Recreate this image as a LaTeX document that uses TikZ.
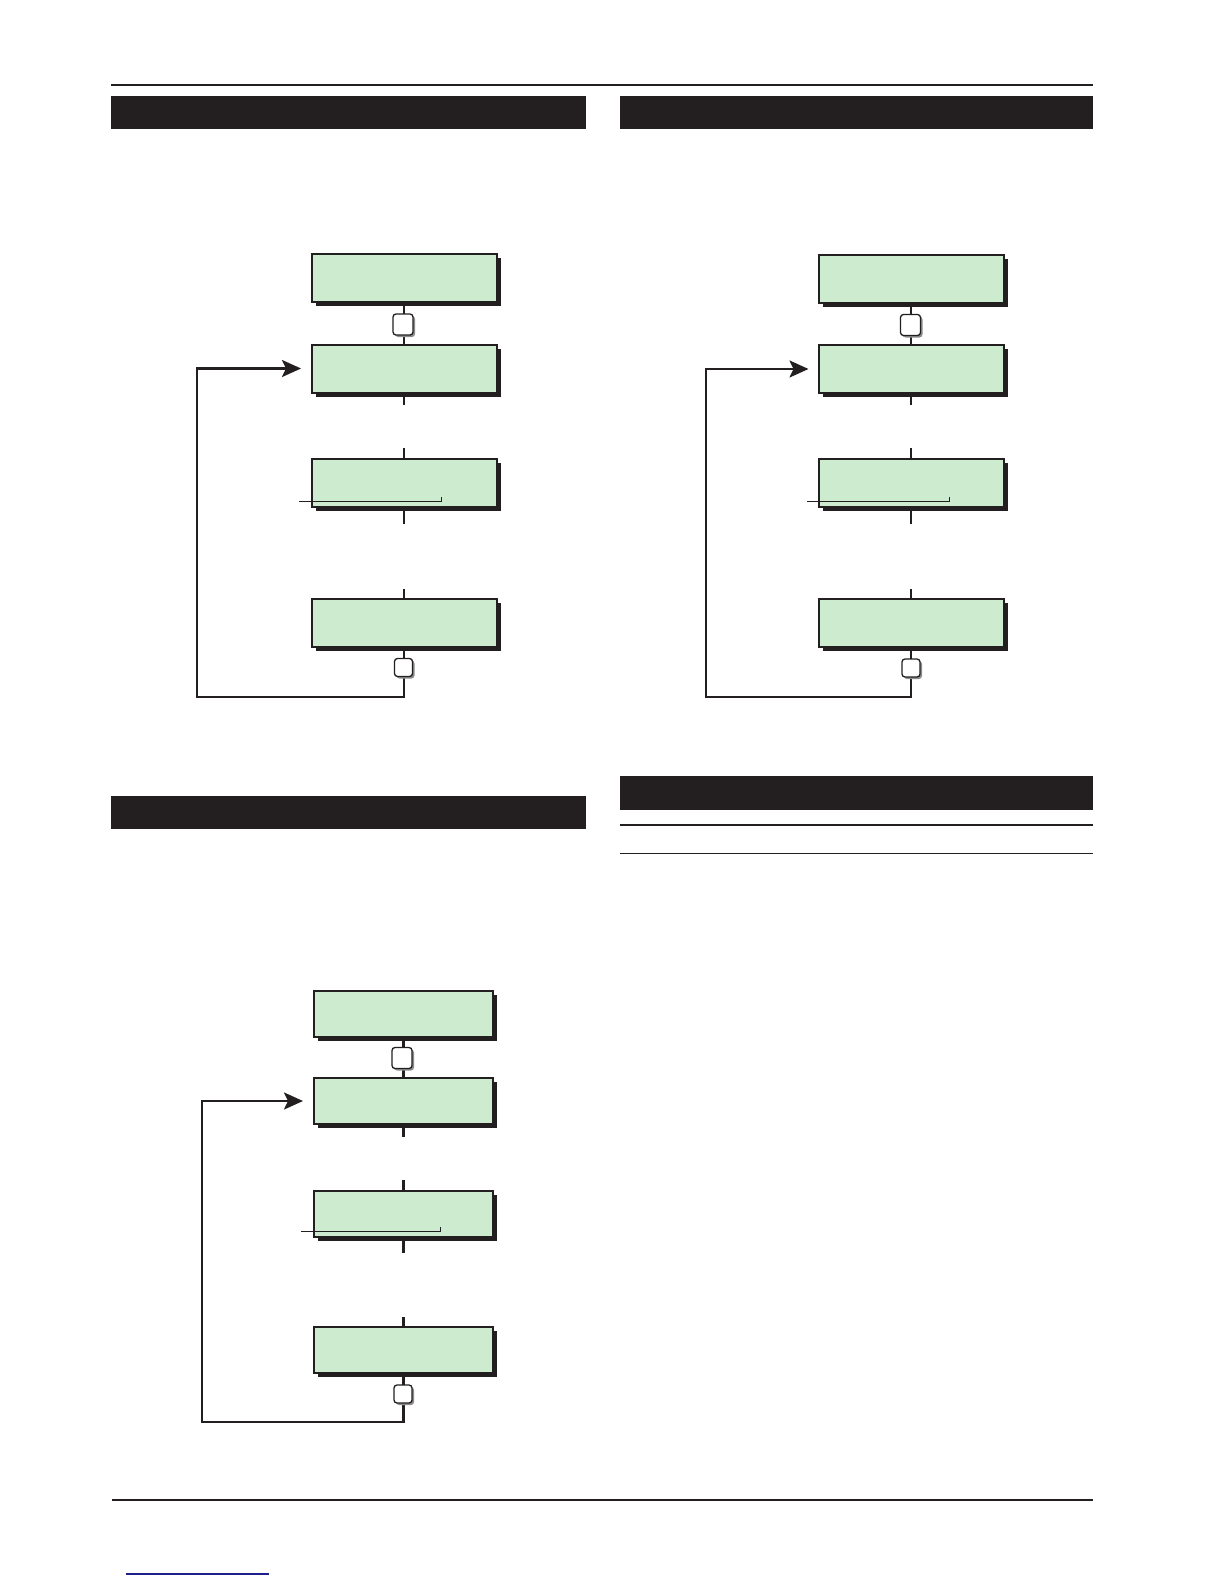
\documentclass[tikz,border=0pt]{standalone}
\usetikzlibrary{arrows.meta,shadows,calc}
\definecolor{ink}{RGB}{35,31,32}
\definecolor{boxgreen}{RGB}{205,235,206}
\definecolor{linkblue}{RGB}{30,30,140}
\begin{document}
\begin{tikzpicture}[x=1pt,y=-1pt,
  gbox/.style={draw=ink,line width=2pt,fill=boxgreen,inner sep=0pt,outer sep=0pt,
    minimum width=185pt,minimum height=48pt,
    general shadow={fill=ink,shadow xshift=4pt,shadow yshift=-4pt}},
  gboxs/.style={gbox,minimum width=179pt,minimum height=46pt},
  sqbox/.style={draw=ink,line width=1.3pt,fill=white,rounded corners=3pt,inner sep=0pt,
    minimum width=20pt,minimum height=21pt,
    general shadow={fill=black!45,shadow xshift=2pt,shadow yshift=-2pt}},
  sqboxs/.style={sqbox,minimum width=18pt,minimum height=18pt},
  conn/.style={draw=ink,line width=2.3pt},
  loop/.style={conn,-{Stealth[length=19pt,width=17pt,inset=4pt]}},
  thinl/.style={draw=ink,line width=1pt},
  bar/.style={fill=ink},
  rule/.style={draw=ink,line width=2.5pt}]
\useasboundingbox (0,0) rectangle (1224,1584);
\fill[white] (0,0) rectangle (1224,1584);

% page rules and header bars
\draw[rule] (111,85) -- (1093,85);
\fill[bar] (111,96) rectangle (586,129);
\fill[bar] (620,96) rectangle (1093,129);
\fill[bar] (111,796) rectangle (586,829);
\fill[bar] (620,776) rectangle (1093,810);
\draw[draw=ink,line width=2pt] (620,825) -- (1093,825);
\draw[draw=ink,line width=1pt] (620,853) -- (1093,853);
\draw[rule] (112,1500) -- (1093,1500);
\draw[draw=linkblue,line width=1.2pt] (126,1574) -- (269,1574);

% ---------- Diagram A (top left) ----------
\node[gbox] (a1) at (404,278) {};
\node[gbox] (a2) at (404,368.5) {};
\node[gbox] (a3) at (404,483) {};
\node[gbox] (a4) at (404,622.5) {};
\draw[conn] (a1.south) -- (a2.north);
\node[sqbox] (as1) at (403,324.5) {};
\draw[conn] (a2.south) -- ++(0,12);
\draw[conn] (a3.north) -- ++(0,-11);
\draw[conn] (a3.south) -- ++(0,17);
\draw[conn] (a4.north) -- ++(0,-10);
\coordinate (aT1) at (299,501);
\coordinate (aT2) at (441,497);
\draw[thinl] (aT1) -| (aT2);
\coordinate (aB) at (404,697);
\coordinate (aL) at (197,697);
\draw[loop] (a4.south) -- (aB) -- (aL) |- ([xshift=-10.5pt]a2.west);
\node[sqboxs] (as2) at (403.5,667.5) {};

% ---------- Diagram B (top right) ----------
\node[gbox] (b1) at (911,279) {};
\node[gbox] (b2) at (911,369) {};
\node[gbox] (b3) at (911,483) {};
\node[gbox] (b4) at (911,623) {};
\draw[conn] (b1.south) -- (b2.north);
\node[sqbox] (bs1) at (910.5,325) {};
\draw[conn] (b2.south) -- ++(0,12);
\draw[conn] (b3.north) -- ++(0,-11);
\draw[conn] (b3.south) -- ++(0,17);
\draw[conn] (b4.north) -- ++(0,-10);
\coordinate (bT1) at (807,501);
\coordinate (bT2) at (949,497);
\draw[thinl] (bT1) -| (bT2);
\coordinate (bB) at (911,697);
\coordinate (bL) at (706,697);
\draw[loop] (b4.south) -- (bB) -- (bL) |- ([xshift=-10pt]b2.west);
\node[sqboxs] (bs2) at (911,668) {};

% ---------- Diagram C (bottom left) ----------
\node[gboxs] (c1) at (403.5,1013.5) {};
\node[gboxs] (c2) at (403.5,1101) {};
\node[gboxs] (c3) at (403.5,1213.5) {};
\node[gboxs] (c4) at (403.5,1349.5) {};
\draw[conn] (c1.south) -- (c2.north);
\node[sqbox] (cs1) at (402,1058) {};
\draw[conn] (c2.south) -- ++(0,13);
\draw[conn] (c3.north) -- ++(0,-11);
\draw[conn] (c3.south) -- ++(0,16);
\draw[conn] (c4.north) -- ++(0,-10);
\coordinate (cT1) at (301,1231);
\coordinate (cT2) at (440,1227);
\draw[thinl] (cT1) -| (cT2);
\coordinate (cB) at (403.5,1422);
\coordinate (cL) at (202,1422);
\draw[loop] (c4.south) -- (cB) -- (cL) |- ([xshift=-11pt]c2.west);
\node[sqboxs] (cs2) at (403,1394) {};
\end{tikzpicture}
\end{document}
